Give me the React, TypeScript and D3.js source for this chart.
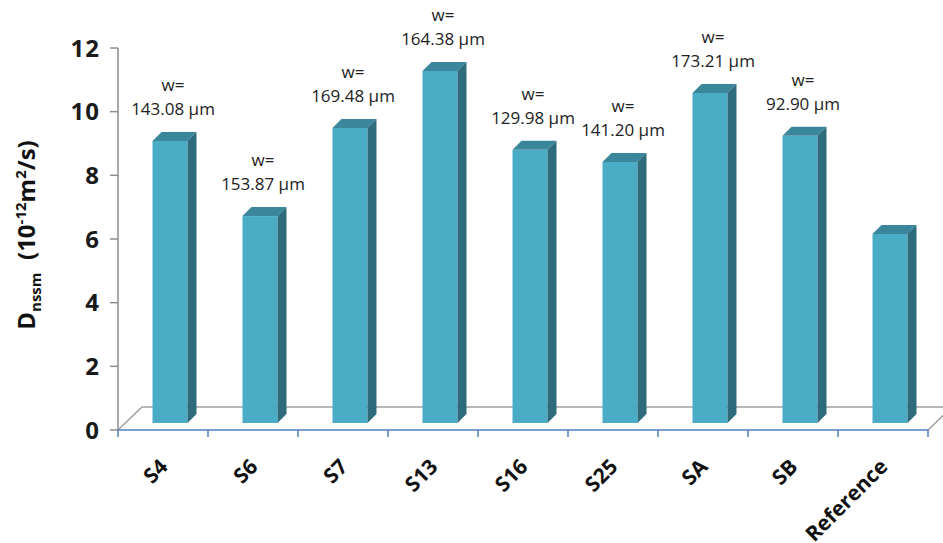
import { useEffect } from 'react'
import * as d3 from 'd3'

const categories = ['S4', 'S6', 'S7', 'S13', 'S16', 'S25', 'SA', 'SB', 'Reference']
const diffusivity = [8.86, 6.5, 9.27, 11.06, 8.58, 8.2, 10.37, 9.02, 5.94]
const widths = ['143.08', '153.87', '169.48', '164.38', '129.98', '141.20', '173.21', '92.90', null]
const yTicks = [0, 2, 4, 6, 8, 10, 12]

const W = 943
const H = 543
const left = 118
const right = 928
const top = 48
const floorY = 430

// oblique depth of the floor and of a bar
const floorDx = 24
const floorDy = -23
const barOff = 7
const barDepth = 9

const front = '#4BACC6'
const topColor = '#3A879C'
const sideColor = '#2E6C7D'
const font = '"Open Sans", "Liberation Sans", sans-serif'

export default function App() {
  useEffect(() => {
    document.body.style.margin = '0'
  }, [])

  const x = d3.scaleBand<string>()
    .domain(categories)
    .range([left, right])
    .paddingInner(0.611)
    .paddingOuter(0.3055)

  const y = d3.scaleLinear().domain([0, 12]).range([floorY, top])

  const bw = x.bandwidth()
  const step = x.step()
  const base = floorY - barOff

  return (
    <svg width={W} height={H} style={{ display: 'block', background: '#fff' }}>
      {/* floor */}
      <path
        d={`M${left},${floorY} L${left + floorDx},${floorY + floorDy} L${right + floorDx + 20},${floorY + floorDy}`}
        fill="none" stroke="#A0A0A0" strokeWidth={1.5}
      />
      <line x1={right} y1={floorY} x2={right + floorDx} y2={floorY + floorDy} stroke="#A0A0A0" strokeWidth={1.5} />

      {/* value axis */}
      <line x1={left} y1={top} x2={left} y2={floorY} stroke="#8C8C8C" strokeWidth={1.5} />
      {yTicks.map(t => (
        <g key={t}>
          <line x1={left - 8} x2={left} y1={y(t)} y2={y(t)} stroke="#8C8C8C" strokeWidth={1.5} />
          <text x={100} y={y(t)} dy="0.36em" textAnchor="end" fontFamily={font} fontWeight={700} fontSize={24}
            letterSpacing={1} fill="#1a1a1a">
            {t}
          </text>
        </g>
      ))}

      {/* bars */}
      {categories.map((c, i) => {
        const x0 = (x(c) ?? 0) + barOff
        const yt = y(diffusivity[i]) - barOff
        const x1 = x0 + bw
        return (
          <g key={c}>
            <rect x={x0} y={yt} width={bw} height={base - yt} fill={front} />
            <polygon
              points={`${x0},${yt} ${x1},${yt} ${x1 + barDepth},${yt - barDepth} ${x0 + barDepth},${yt - barDepth}`}
              fill={topColor}
            />
            <polygon
              points={`${x1},${yt} ${x1 + barDepth},${yt - barDepth} ${x1 + barDepth},${base - barDepth} ${x1},${base}`}
              fill={sideColor}
            />
          </g>
        )
      })}

      {/* category axis */}
      <line x1={left} y1={floorY} x2={right} y2={floorY} stroke="#4F81BD" strokeWidth={1.5} />
      {d3.range(categories.length + 1).map(k => (
        <line key={k} x1={left + k * step} x2={left + k * step} y1={floorY} y2={floorY + 7} stroke="#4F81BD" strokeWidth={1.5} />
      ))}
      {categories.map(c => {
        const cx = (x(c) ?? 0) + bw / 2 + 6
        return (
          <text key={c} transform={`translate(${cx},468) rotate(-45)`} textAnchor="end"
            fontFamily={font} fontWeight={700} fontSize={21} fill="#111">
            {c}
          </text>
        )
      })}

      {/* width labels */}
      {categories.map((c, i) => {
        if (!widths[i]) return null
        const cx = (x(c) ?? 0) + barOff + bw / 2 + 3
        const yb = y(diffusivity[i]) - barOff - barDepth - 17
        return (
          <g key={c} fontFamily={font} fontSize={17} fill="#222" textAnchor="middle">
            <text x={cx} y={yb - 24}>w=</text>
            <text x={cx} y={yb}>{widths[i]} µm</text>
          </g>
        )
      })}

      {/* y title */}
      <text transform={`translate(35,${(top + floorY) / 2 - 4}) rotate(-90)`} textAnchor="middle"
        fontFamily={font} fontWeight={700} fontSize={24} fill="#111">
        D<tspan fontSize={15} dy={6}>nssm</tspan>
        <tspan dy={-6}>{'\u00a0\u00a0'}(10</tspan>
        <tspan fontSize={15} dy={-9}>-12</tspan>
        <tspan dy={9}>m</tspan>
        <tspan fontSize={15} dy={-9}>2</tspan>
        <tspan dy={9}>/s)</tspan>
      </text>
    </svg>
  )
}
